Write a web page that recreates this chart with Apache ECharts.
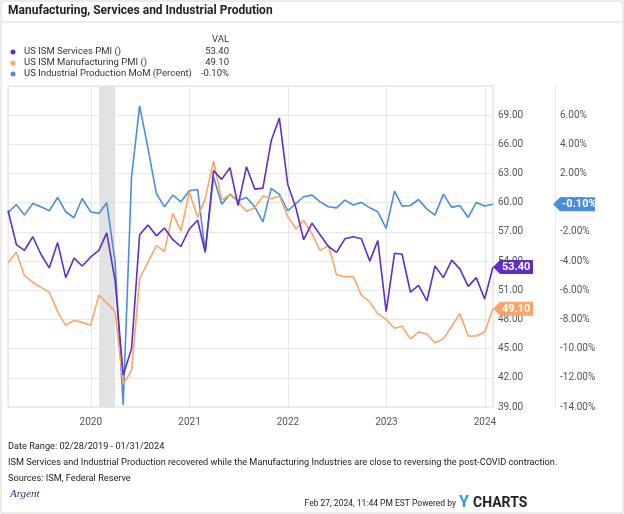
<!DOCTYPE html>
<html>
<head>
<meta charset="utf-8">
<script src="https://cdn.jsdelivr.net/npm/echarts@6/dist/echarts.min.js"></script>
<style>
html,body{margin:0;padding:0;background:#fff;}
#main{width:624px;height:514px;}
</style>
</head>
<body>
<div id="main"></div>
<script>
// monthly, month-end dates 2019-02 .. 2024-01
var months = [];
for (var y = 2019; y <= 2024; y++) {
    for (var m = 1; m <= 12; m++) {
        if ((y === 2019 && m < 2) || (y === 2024 && m > 1)) continue;
        months.push(new Date(y, m, 0).getTime());
    }
}
var servicesPMI = [59.2,55.7,55.1,56.5,54.7,53.3,55.9,52.3,54.3,53.5,54.4,55.1,
    56.9,52.0,42.3,45.0,56.7,57.7,56.6,57.4,56.2,55.5,57.3,58.2,
    54.9,63.3,62.4,63.6,59.7,63.7,61.4,61.5,66.4,68.7,61.9,59.4,
    56.2,57.9,56.7,55.5,54.9,56.3,56.5,56.3,54.0,56.1,48.8,54.8,
    54.7,50.8,51.5,49.9,53.5,52.3,54.1,53.2,51.4,52.3,50.1,53.4];
var manufPMI = [53.8,54.9,52.5,51.8,51.3,50.8,48.8,47.4,47.9,47.7,47.4,50.5,
    49.7,48.8,41.4,42.7,52.2,53.9,55.6,55.0,58.9,57.1,61.1,58.5,
    60.4,64.3,60.3,60.8,60.1,59.1,59.5,60.7,60.4,60.7,58.6,57.3,
    58.2,56.8,55.1,55.6,52.6,52.4,52.4,50.5,49.8,48.6,48.0,47.1,
    47.3,46.0,46.7,46.5,45.6,46.0,47.3,48.6,46.3,46.3,46.7,49.1];
var indProdMoM = [-0.69,-0.12,-0.85,-0.05,-0.28,-0.55,0.36,-0.62,-1.03,0.29,-0.62,-0.74,
    0.0,-4.04,-13.86,1.78,6.64,3.72,0.63,-0.28,0.52,0.06,0.82,0.91,
    -3.36,1.78,-0.1,0.59,0.13,0.36,-0.28,-1.31,0.98,0.57,-0.55,-0.05,
    0.41,0.52,0.06,-0.28,-0.35,0.18,-0.16,0.02,-0.35,-0.62,-1.76,0.79,
    -0.23,-0.19,0.22,-0.44,-0.85,0.59,-0.32,-0.19,-1.01,0.02,-0.23,-0.10];
var recession = ['2020-02-01', '2020-03-31'];

var cPurple = '#5f2ec8', cOrange = '#ffa468', cBlue = '#4a8ddc';
var font = "Roboto, sans-serif";

function pair(arr) {
    return arr.map(function (v, i) { return [months[i], v]; });
}

var chart = echarts.init(document.getElementById('main'));
chart.setOption({
    animation: false,
    textStyle: {fontFamily: font},
    grid: {left: 8, right: 131, top: 86, bottom: 107, show: true, borderColor: '#e0e0e0', borderWidth: 1},
    xAxis: {
        type: 'time',
        min: months[0], max: months[months.length - 1],
        axisLine: {show: false}, axisTick: {show: false},
        axisLabel: {color: '#555', fontSize: 10, margin: 10,
            formatter: function (v) { return String(new Date(v).getFullYear()); }},
        splitNumber: 5,
        splitLine: {show: true, lineStyle: {color: '#e8e8e8'}}
    },
    yAxis: [{
        type: 'value', position: 'right', min: 39, max: 72, interval: 3,
        axisLine: {show: false}, axisTick: {show: false},
        axisLabel: {color: '#555', fontSize: 10, margin: 5,
            formatter: function (v) { return v === 72 ? '' : v.toFixed(2); }},
        splitLine: {lineStyle: {color: '#e8e8e8'}}
    }, {
        type: 'value', position: 'right', offset: 62, min: -14, max: 8, interval: 2,
        axisLine: {show: true, lineStyle: {color: '#e6e6e6'}}, axisTick: {show: false},
        axisLabel: {color: '#555', fontSize: 10, margin: 5,
            formatter: function (v) { return v === 8 ? '' : v.toFixed(2) + '%'; }},
        splitLine: {show: false}
    }],
    series: [{
        name: 'US ISM Services PMI ()', type: 'line', yAxisIndex: 0, showSymbol: false,
        data: pair(servicesPMI), lineStyle: {color: cPurple, width: 1.6}, itemStyle: {color: cPurple},
        z: 4,
        markArea: {silent: true, itemStyle: {color: '#e2e2e2'},
            data: [[{xAxis: recession[0]}, {xAxis: recession[1]}]]}
    }, {
        name: 'US ISM Manufacturing PMI ()', type: 'line', yAxisIndex: 0, showSymbol: false,
        data: pair(manufPMI), lineStyle: {color: cOrange, width: 1.6}, itemStyle: {color: cOrange}, z: 3
    }, {
        name: 'US Industrial Production MoM (Percent)', type: 'line', yAxisIndex: 1, showSymbol: false,
        data: pair(indProdMoM), lineStyle: {color: cBlue, width: 1.6}, itemStyle: {color: cBlue}, z: 2
    }]
});

// end value tags, positioned through the axes
function tag(x, val, yAxisIndex, color, text, w) {
    var y = chart.convertToPixel({yAxisIndex: yAxisIndex}, val);
    return {
        type: 'group', x: x, y: y, zlevel: 1,
        children: [{
            type: 'polygon', zlevel: 1,
            shape: {points: [[0, 0], [7, -7], [w, -7], [w, 7], [7, 7]]},
            style: {fill: color}
        }, {
            type: 'text', x: 9, y: 0, zlevel: 1,
            style: {text: text, fill: '#fff', font: 'bold 11px ' + font, textVerticalAlign: 'middle'}
        }]
    };
}
var last = months.length - 1;
var lx = 493;

var legendRows = [
    {c: cPurple, n: 'US ISM Services PMI ()', v: servicesPMI[last].toFixed(2)},
    {c: cOrange, n: 'US ISM Manufacturing PMI ()', v: manufPMI[last].toFixed(2)},
    {c: cBlue, n: 'US Industrial Production MoM (Percent)', v: indProdMoM[last].toFixed(2) + '%'}
];
var g = [
    {type: 'rect', shape: {x: 1, y: 1, width: 622, height: 512}, style: {fill: 'none', stroke: '#d8d8d8', lineWidth: 1}},
    {type: 'text', x: 8, y: 5, style: {text: 'Manufacturing, Services and Industrial Prodution', font: 'bold 12px ' + font, fill: '#222'}},
    {type: 'line', shape: {x1: 2, y1: 22, x2: 622, y2: 22}, style: {stroke: '#d8d8d8', lineWidth: 1}},
    {type: 'text', x: 229, y: 35, style: {text: 'VAL', font: '9.5px ' + font, fill: '#333', textAlign: 'right'}}
];
legendRows.forEach(function (r, i) {
    var y = 52 + i * 11;
    g.push({type: 'circle', shape: {cx: 13, cy: y, r: 2.5}, style: {fill: r.c}});
    g.push({type: 'text', x: 24, y: y, style: {text: r.n, font: '9.5px ' + font, fill: '#333', textVerticalAlign: 'middle'}});
    g.push({type: 'text', x: 229, y: y, style: {text: r.v, font: '9.5px ' + font, fill: '#333', textAlign: 'right', textVerticalAlign: 'middle'}});
});
var foot = [
    [8, 447, 'Date Range: 02/28/2019 - 01/31/2024'],
    [8, 463, 'ISM Services and Industrial Production recovered while the Manufacturing Industries are close to reversing the post-COVID contraction.'],
    [8, 479, 'Sources: ISM, Federal Reserve']
];
foot.forEach(function (f) {
    g.push({type: 'text', x: f[0], y: f[1], style: {text: f[2], font: '9.2px ' + font, fill: '#222', textVerticalAlign: 'middle'}});
});
g.push({type: 'text', x: 10, y: 494, style: {text: 'Argent', font: 'italic 11px serif', fill: '#2a3a6a', textVerticalAlign: 'middle'}});
g.push({type: 'text', x: 456, y: 504, style: {text: 'Feb 27, 2024, 11:44 PM EST Powered by', font: '8.5px ' + font, fill: '#222', textAlign: 'right', textVerticalAlign: 'middle'}});
g.push({type: 'text', x: 459, y: 503, style: {text: 'Y', font: 'bold 16px ' + font, fill: '#2a9be0', textVerticalAlign: 'middle'}});
g.push({type: 'text', x: 473, y: 503, style: {text: 'CHARTS', font: 'bold 14px ' + font, fill: '#222', textVerticalAlign: 'middle'}});
g.push(tag(lx, servicesPMI[last], 0, cPurple, servicesPMI[last].toFixed(2), 40));
g.push(tag(lx, manufPMI[last], 0, cOrange, manufPMI[last].toFixed(2), 40));
g.push(tag(553, indProdMoM[last], 1, cBlue, indProdMoM[last].toFixed(2) + '%', 42));
chart.setOption({graphic: g});
</script>
</body>
</html>
